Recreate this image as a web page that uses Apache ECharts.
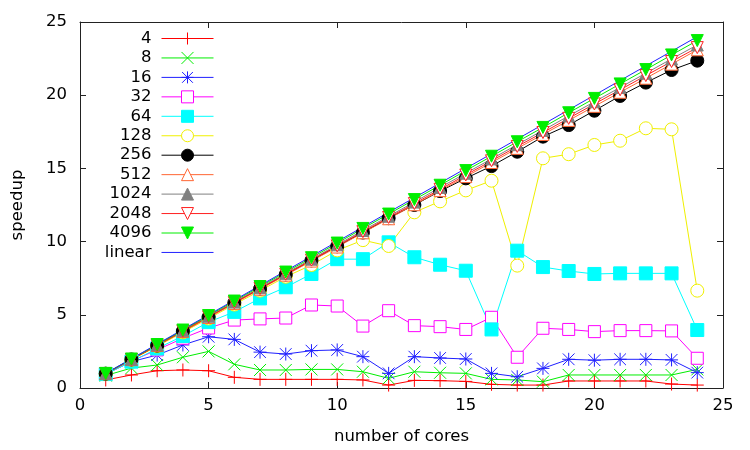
<!DOCTYPE html>
<html>
<head>
<meta charset="utf-8">
<script src="https://cdn.jsdelivr.net/npm/echarts@6/dist/echarts.min.js"></script>
<style>
  html, body { margin: 0; padding: 0; background: #fff; }
  #chart { width: 750px; height: 450px; }
</style>
</head>
<body>
<div id="chart"></div>
<script>
const cores = [1, 2, 3, 4, 5, 6, 7, 8, 9, 10, 11, 12, 13, 14, 15, 16, 17, 18, 19, 20, 21, 22, 23, 24];

const s4 = [0.55, 0.89, 1.18, 1.23, 1.18, 0.73, 0.59, 0.59, 0.59, 0.59, 0.55, 0.2, 0.52, 0.5, 0.45, 0.25, 0.2, 0.2, 0.48, 0.48, 0.48, 0.48, 0.27, 0.2];
const s8 = [0.85, 1.36, 1.57, 2.1, 2.5, 1.62, 1.23, 1.23, 1.27, 1.27, 1.11, 0.66, 1.11, 1.04, 1.0, 0.59, 0.55, 0.43, 0.89, 0.89, 0.89, 0.89, 0.89, 1.27];
const s16 = [0.95, 1.8, 2.25, 2.94, 3.5, 3.32, 2.45, 2.32, 2.55, 2.6, 2.14, 1.0, 2.14, 2.05, 1.98, 1.0, 0.77, 1.34, 1.96, 1.9, 1.96, 1.96, 1.92, 1.05];
const s32 = [0.97, 1.85, 2.6, 3.4, 4.1, 4.64, 4.72, 4.78, 5.67, 5.6, 4.23, 5.28, 4.26, 4.19, 4.0, 4.83, 2.1, 4.08, 4.0, 3.85, 3.92, 3.92, 3.9, 2.03];
const s64 = [0.95, 1.8, 2.7, 3.55, 4.5, 5.2, 6.12, 6.88, 7.79, 8.8, 8.8, 9.95, 8.93, 8.42, 8.01, 4.0, 9.38, 8.26, 7.99, 7.79, 7.83, 7.83, 7.83, 3.96];
const s128 = [0.97, 1.92, 2.85, 3.8, 4.75, 5.7, 6.65, 7.6, 8.4, 9.4, 10.1, 9.7, 12.0, 12.75, 13.5, 14.16, 8.36, 15.69, 15.97, 16.6, 16.89, 17.74, 17.67, 6.65];
const s256 = [0.98, 1.95, 2.9, 3.88, 4.85, 5.82, 6.78, 7.75, 8.72, 9.68, 10.62, 11.6, 12.5, 13.45, 14.32, 15.16, 16.14, 17.17, 17.96, 18.94, 19.95, 20.86, 21.72, 22.36];
const s512 = [0.98, 1.94, 2.9, 3.86, 4.82, 5.78, 6.75, 7.71, 8.67, 9.63, 10.6, 11.56, 12.52, 13.48, 14.44, 15.4, 16.37, 17.32, 18.28, 19.24, 20.2, 21.16, 22.12, 23.1];
const s1024 = [1.0, 1.96, 2.94, 3.92, 4.9, 5.87, 6.85, 7.83, 8.8, 9.78, 10.76, 11.73, 12.7, 13.7, 14.67, 15.65, 16.62, 17.6, 18.58, 19.55, 20.53, 21.5, 22.48, 23.43];
const s2048 = [0.99, 1.95, 2.92, 3.89, 4.86, 5.83, 6.8, 7.77, 8.74, 9.71, 10.68, 11.65, 12.6, 13.57, 14.55, 15.52, 16.5, 17.45, 18.42, 19.4, 20.37, 21.34, 22.3, 23.25];
const s4096 = [1.0, 1.98, 2.97, 3.96, 4.95, 5.94, 6.93, 7.92, 8.9, 9.9, 10.9, 11.88, 12.87, 13.85, 14.85, 15.83, 16.82, 17.8, 18.8, 19.78, 20.77, 21.75, 22.75, 23.73];
const linear = [1, 2, 3, 4, 5, 6, 7, 8, 9, 10, 11, 12, 13, 14, 15, 16, 17, 18, 19, 20, 21, 22, 23, 24];

const xTicks = [0, 5, 10, 15, 20, 25];
const yTicks = [0, 5, 10, 15, 20, 25];

// stroked marker shapes (gnuplot style)
const PLUS = "path://M0,10H20M10,0V20";
const CROSS = "path://M0,0L20,20M0,20L20,0";
const STAR = "path://M0,10H20M10,0V20M1,1L19,19M1,19L19,1";

const chart = echarts.init(document.getElementById("chart"));
const font = "DejaVu Sans";
const fs = 16.5;

function line(name, values, color, symbol, opts) {
  opts = opts || {};
  const open = !!opts.open;
  return {
    name: name,
    type: "line",
    data: cores.map((c, i) => [c, values[i]]),
    symbol: symbol,
    symbolSize: opts.size || 12,
    symbolRotate: opts.rotate || 0,
    animation: false,
    color: color,
    lineStyle: { color: color, width: 1 },
    itemStyle: {
      color: open ? "#fff" : color,
      borderColor: color,
      borderWidth: 1,
      opacity: opts.hidden ? 0 : 1
    },
    emphasis: { disabled: true }
  };
}

const axisCommon = {
  type: "value",
  min: 0,
  max: 25,
  interval: 5,
  splitLine: { show: false },
  axisLine: { show: true, onZero: false, lineStyle: { color: "#222", width: 1 } },
  axisTick: { show: true, inside: true, length: 6, lineStyle: { color: "#222" } }
};

chart.setOption({
  animation: false,
  backgroundColor: "#fff",
  textStyle: { fontFamily: font },
  grid: { left: 80, right: 27, top: 22, bottom: 62 },
  legend: {
    orient: "vertical",
    right: 536,
    top: 30,
    padding: 0,
    align: "right",
    itemWidth: 52,
    itemHeight: 15,
    itemGap: 2.45,
    selectedMode: false,
    itemStyle: { borderWidth: 1 },
    lineStyle: { width: 1 },
    textStyle: { fontFamily: font, fontSize: fs, lineHeight: 15, color: "#000", padding: [0, 5, 0, 0] },
    data: ["4", "8", "16", "32", "64", "128", "256", "512", "1024", "2048", "4096", "linear"]
  },
  xAxis: [
    Object.assign({}, axisCommon, {
      position: "bottom",
      name: "number of cores",
      nameLocation: "middle",
      nameGap: 40,
      nameTextStyle: { fontFamily: font, fontSize: fs, color: "#000" },
      axisLabel: { fontFamily: font, fontSize: fs, color: "#000", margin: 9,
        formatter: (v) => (xTicks.includes(v) ? String(v) : "") }
    }),
    Object.assign({}, axisCommon, { position: "top", axisLabel: { show: false } })
  ],
  yAxis: [
    Object.assign({}, axisCommon, {
      position: "left",
      name: "speedup",
      nameLocation: "middle",
      nameGap: 54,
      nameTextStyle: { fontFamily: font, fontSize: fs, color: "#000" },
      axisLabel: { fontFamily: font, fontSize: fs, color: "#000", margin: 13,
        formatter: (v) => (yTicks.includes(v) ? String(v) : "") }
    }),
    Object.assign({}, axisCommon, { position: "right", axisLabel: { show: false } })
  ],
  series: [
    line("4", s4, "#ff0000", PLUS, { size: 13 }),
    line("8", s8, "#00ee00", CROSS, { size: 12 }),
    line("16", s16, "#2020ff", STAR, { size: 13 }),
    line("32", s32, "#ff00ff", "rect", { size: 12, open: true }),
    line("64", s64, "#00ffff", "rect", { size: 13 }),
    line("128", s128, "#f0f000", "circle", { size: 13, open: true }),
    line("256", s256, "#000000", "circle", { size: 13 }),
    line("512", s512, "#ff6633", "triangle", { size: 12, open: true }),
    line("1024", s1024, "#808080", "triangle", { size: 12 }),
    line("2048", s2048, "#ff2020", "triangle", { size: 12, rotate: 180, open: true }),
    line("4096", s4096, "#00ee00", "triangle", { size: 12, rotate: 180 }),
    line("linear", linear, "#2020ff", "circle", { size: 1, hidden: true })
  ]
});
</script>
</body>
</html>
